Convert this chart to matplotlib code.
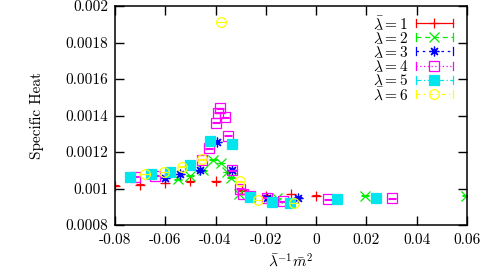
import matplotlib
matplotlib.use('Agg')
from matplotlib import pyplot as plt

plt.rcParams['font.family'] = 'cmr10'
plt.rcParams['mathtext.fontset'] = 'cm'
plt.rcParams['axes.unicode_minus'] = False
plt.rcParams['axes.formatter.use_mathtext'] = True

# data, one series per lambda-bar
x1 = [-0.080, -0.070, -0.060, -0.050, -0.040, -0.0295, -0.020, -0.0100, 0.000]
y1 = [0.001015, 0.00102, 0.00103, 0.00104, 0.00104, 0.00099, 0.00096, 0.00097, 0.00096]

x2 = [-0.0550, -0.0500, -0.0450, -0.0410, -0.0380, -0.0356, -0.0340, -0.0305, -0.0157, 0.0195, 0.0598]
y2 = [0.00105, 0.00107, 0.00110, 0.001158, 0.00114, 0.00109, 0.00106, 0.00097, 0.000946, 0.00096, 0.00096]

x3 = [-0.0600, -0.0540, -0.0462, -0.0396, -0.0334, -0.0197, -0.0072]
y3 = [0.00106, 0.00108, 0.00110, 0.001255, 0.00110, 0.00095, 0.00095]

x4 = [-0.0720, -0.0640, -0.0453, -0.0428, -0.0400, -0.0392, -0.0381, -0.0362, -0.0350,
      -0.0334, -0.0303, -0.0290, -0.0263, -0.0197, -0.0130, 0.0048, 0.0300]
y4 = [0.001065, 0.00107, 0.001158, 0.00122, 0.00136, 0.001415, 0.00144, 0.00139, 0.00129,
      0.00110, 0.00100, 0.00097, 0.00096, 0.00095, 0.00093, 0.00094, 0.000946]

x5 = [-0.0739, -0.0656, -0.0580, -0.0502, -0.0422, -0.0336, -0.0263, -0.0177, -0.0104, 0.0082, 0.0238]
y5 = [0.001065, 0.00108, 0.00109, 0.00113, 0.00126, 0.001244, 0.000955, 0.000928, 0.00092, 0.00094, 0.000946]

x6 = [-0.0680, -0.0607, -0.0532, -0.0455, -0.0379, -0.0303, -0.0230, -0.0088]
y6 = [0.00108, 0.00109, 0.00112, 0.00116, 0.001912, 0.00104, 0.000937, 0.00092]

err = 2e-6

series = [(x1, y1), (x2, y2), (x3, y3), (x4, y4), (x5, y5), (x6, y6)]
labels = [r'$\bar{\lambda}=%d$' % i for i in range(1, 7)]
colors = ['#ff0000', '#00ee00', '#0000ff', '#ff00ff', '#00e5ee', '#ffff00']
markers = ['+', 'x', (8, 2, 0), 's', 's', 'o']
fills = ['none', 'none', 'none', 'none', 'full', 'none']
dashes = ['-', (0, (4, 3)), (0, (2, 3)), (0, (1, 2)), (0, (4, 2, 1, 2)), (0, (3, 3, 1, 3))]

W, H = 485, 269
fig = plt.figure(figsize=(W / 100, H / 100), dpi=100)
L, R, T, B = 115, 467, 6, 225
ax = fig.add_axes([L / W, 1 - B / H, (R - L) / W, (B - T) / H])

for (xs, ys), c, m, f in zip(series, colors, markers, fills):
    fc = c if f == 'full' else 'none'
    ax.errorbar(xs, ys, yerr=err, fmt='none', ecolor=c, elinewidth=0.8,
                capsize=3, capthick=0.8)
    ax.plot(xs, ys, linestyle='none', marker=m, ms=7, mec=c, mfc=fc, mew=0.9)

ax.set_xlim(-0.08, 0.06)
ax.set_ylim(0.0008, 0.002)
xt = [-0.08, -0.06, -0.04, -0.02, 0.0, 0.02, 0.04, 0.06]
yt = [0.0008, 0.001, 0.0012, 0.0014, 0.0016, 0.0018, 0.002]
ax.set_xticks(xt)
ax.set_xticklabels(['-0.08', '-0.06', '-0.04', '-0.02', '0', '0.02', '0.04', '0.06'])
ax.set_yticks(yt)
ax.set_yticklabels(['0.0008', '0.001', '0.0012', '0.0014', '0.0016', '0.0018', '0.002'])
ax.tick_params(direction='in', length=6.5, width=1.0, top=True, right=True,
               labelsize=11, pad=6)
ax.tick_params(axis='y', pad=5)
for s in ax.spines.values():
    s.set_linewidth(1.1)

ax.set_ylabel('Specific Heat', fontsize=11)
ax.yaxis.set_label_coords((44 - L) / (R - L), 0.5)
ax.set_xlabel(r'$\bar{\lambda}^{-1}\bar{m}^2$', fontsize=11, va='top')
ax.xaxis.set_label_coords(0.5, -(252 - B) / (B - T))

# gnuplot style key drawn by hand, in figure pixels
x0, x1k, xt_ = 416, 453, 408
for i, (lab, c, m, f, d) in enumerate(zip(labels, colors, markers, fills, dashes)):
    yy = 1 - (23 + 14.2 * i) / H
    fig.text(xt_ / W, yy, lab, ha='right', va='center', fontsize=11)
    fig.add_artist(plt.Line2D([x0 / W, x1k / W], [yy, yy], color=c, lw=0.9, linestyle=d))
    for xe in (x0, x1k):
        fig.add_artist(plt.Line2D([xe / W, xe / W], [yy - 4 / H, yy + 4 / H], color=c, lw=0.9))
    fc = c if f == 'full' else 'none'
    fig.add_artist(plt.Line2D([(x0 + x1k) / 2 / W], [yy], marker=m, ms=7, mec=c, mfc=fc,
                              mew=0.9, linestyle='none'))

fig.savefig('out.png', dpi=100)
